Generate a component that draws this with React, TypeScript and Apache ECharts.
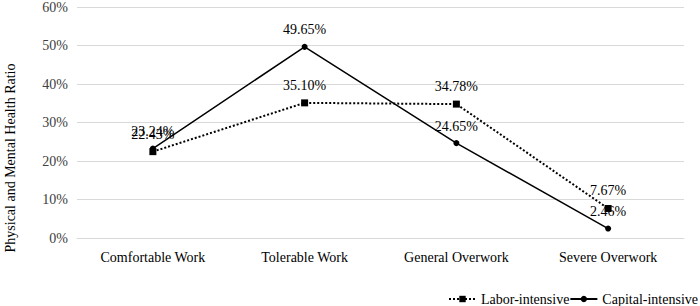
import React, { useEffect, useRef } from "react";
import * as echarts from "echarts";

const categories = ["Comfortable Work", "Tolerable Work", "General Overwork", "Severe Overwork"];
const laborValues = [22.43, 35.1, 34.78, 7.67];
const capitalValues = [23.24, 49.65, 24.65, 2.46];
const seriesNames = ["Labor-intensive", "Capital-intensive"];
const yAxisTitle = "Physical and Mental Health Ratio";

const FONT = "Liberation Serif";

export default function App() {
  const ref = useRef<HTMLDivElement>(null);
  useEffect(() => {
    if (!ref.current) return;
    const chart = echarts.init(ref.current, undefined, { renderer: "svg" });
    chart.setOption({
      animation: false,
      textStyle: { fontFamily: FONT },
      grid: { left: 77, right: 16, top: 4, bottom: 68, containLabel: false },
      legend: {
        right: 2,
        bottom: 0,
        padding: 0,
        itemGap: 0,
        itemWidth: 27,
        itemHeight: 8,
        textStyle: { fontFamily: FONT, fontSize: 14, color: "#000" },
        data: [
          { name: seriesNames[0] },
          { name: seriesNames[1] },
        ],
      },
      graphic: [
        {
          type: "text",
          x: 10,
          y: 158,
          rotation: Math.PI / 2,
          style: {
            text: yAxisTitle,
            fontFamily: FONT,
            fontSize: 14,
            fill: "#000",
            align: "center",
            verticalAlign: "middle",
          },
        },
      ],
      xAxis: {
        type: "category",
        data: categories,
        boundaryGap: true,
        axisLine: { show: true, lineStyle: { color: "#d9d9d9", width: 1 } },
        axisTick: { show: false },
        axisLabel: { fontFamily: FONT, fontSize: 14, color: "#000", margin: 12 },
      },
      yAxis: {
        type: "value",
        min: 0,
        max: 60,
        interval: 10,
        axisLine: { show: false },
        axisTick: { show: false },
        splitLine: { lineStyle: { color: "#d9d9d9", width: 1 } },
        axisLabel: {
          fontFamily: FONT,
          fontSize: 14,
          color: "#404040",
          margin: 9,
          formatter: (v: number) => v + "%",
        },
      },
      series: [
        {
          name: seriesNames[0],
          type: "line",
          data: laborValues,
          symbol: "rect",
          symbolSize: 7,
          lineStyle: { type: "dotted", width: 2, color: "#000" },
          itemStyle: { color: "#000" },
          label: {
            show: true,
            position: "top",
            distance: 7,
            fontFamily: FONT,
            fontSize: 14,
            color: "#000",
            formatter: (p: any) => p.value.toFixed(2) + "%",
          },
        },
        {
          name: seriesNames[1],
          type: "line",
          data: capitalValues,
          symbol: "circle",
          symbolSize: 6,
          lineStyle: { type: "solid", width: 1.5, color: "#000" },
          itemStyle: { color: "#000" },
          label: {
            show: true,
            position: "top",
            distance: 7,
            fontFamily: FONT,
            fontSize: 14,
            color: "#000",
            formatter: (p: any) => p.value.toFixed(2) + "%",
          },
        },
      ],
    });
    return () => chart.dispose();
  }, []);
  return <div ref={ref} style={{ width: 700, height: 306, position: "absolute", left: 0, top: 0 }} />;
}
